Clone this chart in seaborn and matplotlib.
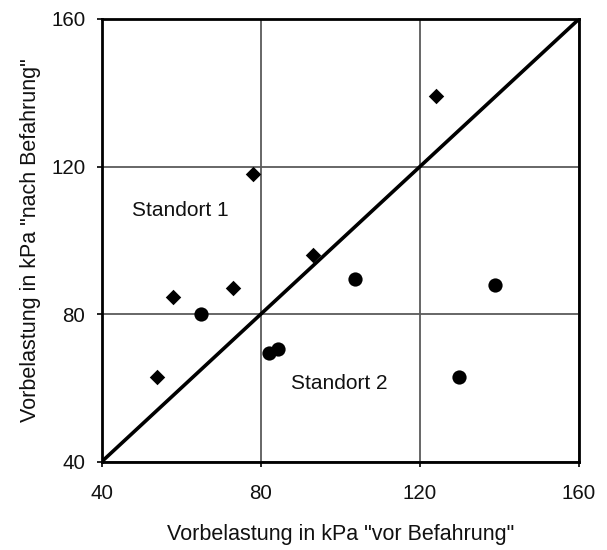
import matplotlib
matplotlib.use("Agg")
import matplotlib.pyplot as plt
import seaborn as sns
import pandas as pd

# Data
s1_x = [124, 78, 58, 73, 93, 54]
s1_y = [139, 118, 84.6, 87, 96, 63]
s2_x = [65, 82, 84.2, 103.7, 138.9, 129.8]
s2_y = [80, 69.5, 70.6, 89.5, 87.9, 63]
ref_line = [40, 160]
ticks = [40, 80, 120, 160]
xlabel = 'Vorbelastung in kPa "vor Befahrung"'
ylabel = 'Vorbelastung in kPa "nach Befahrung"'

df = pd.DataFrame({
    "x": s1_x + s2_x,
    "y": s1_y + s2_y,
    "Standort": ["Standort 1"] * len(s1_x) + ["Standort 2"] * len(s2_x),
})

sns.set_style("white")
plt.rcParams["font.family"] = ["Liberation Sans", "DejaVu Sans"]

fig = plt.figure(figsize=(6.07, 5.5), dpi=100)
ax = fig.add_axes([0.1675, 0.1605, 0.954 - 0.1675, 0.9655 - 0.1605])

ax.set_xlim(40, 160)
ax.set_ylim(40, 160)
ax.set_xticks(ticks)
ax.set_yticks(ticks)
ax.grid(True, color="#5a5a5a", linewidth=1.3)
ax.set_axisbelow(True)

sns.lineplot(x=ref_line, y=ref_line, color="black", linewidth=2.6, ax=ax, zorder=3)

sns.scatterplot(data=df[df.Standort == "Standort 1"], x="x", y="y", marker="D",
                s=62, color="black", edgecolor="black", linewidth=0, ax=ax, zorder=4, legend=False)
sns.scatterplot(data=df[df.Standort == "Standort 2"], x="x", y="y", marker="o",
                s=105, color="black", edgecolor="black", linewidth=0, ax=ax, zorder=4, legend=False)

ax.text(47.5, 108, "Standort 1", fontsize=15, va="center", ha="left", color="#111111")
ax.text(87.7, 61.2, "Standort 2", fontsize=15, va="center", ha="left", color="#111111")

for sp in ax.spines.values():
    sp.set_visible(True)
    sp.set_color("black")
    sp.set_linewidth(2)

ax.tick_params(axis="both", which="both", direction="out", length=3.8, width=1.2,
               color="black", labelsize=14.8, labelcolor="#111111", bottom=True, left=True)
ax.tick_params(axis="x", pad=12.5)
ax.tick_params(axis="y", pad=8)
ax.set_xlabel(xlabel, fontsize=15.5, color="#111111")
ax.set_ylabel(ylabel, fontsize=15.5, color="#111111")
ax.xaxis.set_label_coords(0.5, -0.1407)
ax.yaxis.set_label_coords(-0.127, 0.5)

fig.savefig("out.png", dpi=100)
